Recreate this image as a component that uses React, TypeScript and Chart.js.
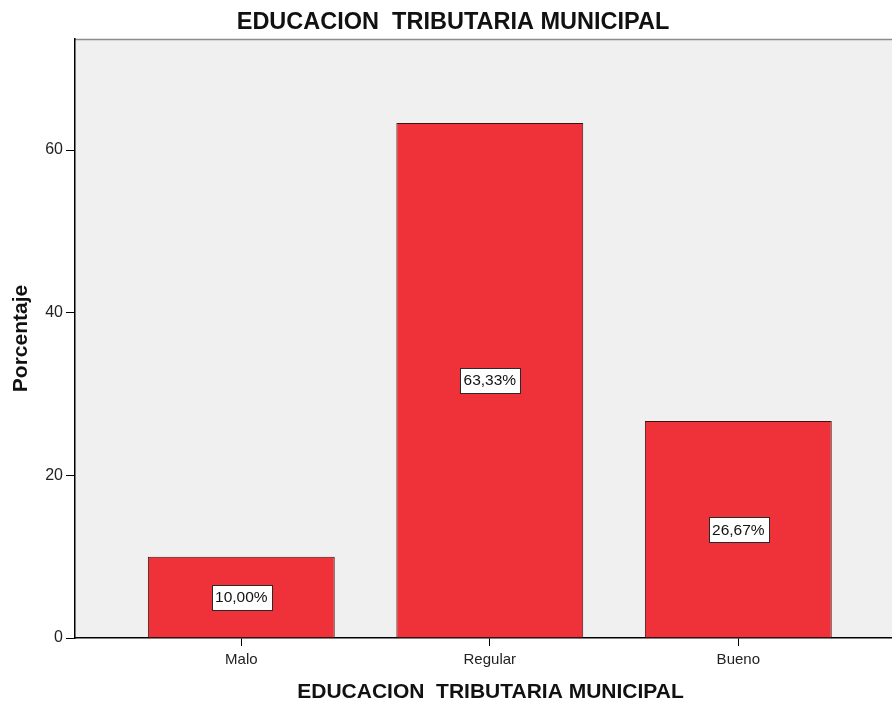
import React, { useEffect, useRef } from "react";
import { Chart, registerables } from "chart.js";

Chart.register(...registerables);

const categories = ["Malo", "Regular", "Bueno"];
const percentages = [10.0, 63.33, 26.67];
const yTicks = [0, 20, 40, 60];
const chartTitle = "EDUCACION  TRIBUTARIA MUNICIPAL";
const xTitle = "EDUCACION  TRIBUTARIA MUNICIPAL";
const yTitle = "Porcentaje";

const FONT = "'Liberation Sans', Arial, Helvetica, sans-serif";

const plotBackground = {
  id: "plotBackground",
  beforeDraw(chart: any) {
    const { ctx, chartArea } = chart;
    if (!chartArea) return;
    ctx.save();
    ctx.fillStyle = "#F0F0F0";
    ctx.fillRect(chartArea.left, chartArea.top, chartArea.right - chartArea.left, chartArea.bottom - chartArea.top);
    ctx.strokeStyle = "#8c8c8c";
    ctx.lineWidth = 1.5;
    ctx.beginPath();
    ctx.moveTo(chartArea.left, chartArea.top + 0.5);
    ctx.lineTo(chartArea.right, chartArea.top + 0.5);
    ctx.stroke();
    ctx.restore();
  },
};

const barLabels = {
  id: "barLabels",
  afterDatasetsDraw(chart: any) {
    const { ctx } = chart;
    const meta = chart.getDatasetMeta(0);
    ctx.save();
    ctx.font = `15.5px ${FONT}`;
    ctx.textAlign = "center";
    ctx.textBaseline = "middle";
    meta.data.forEach((bar: any, i: number) => {
      const v = percentages[i];
      const text = v.toFixed(2).replace(".", ",") + "%";
      const cx = bar.x;
      const cy = (bar.y + bar.base) / 2;
      const w = ctx.measureText(text).width + 7;
      const h = 25;
      ctx.fillStyle = "#ffffff";
      ctx.fillRect(Math.round(cx - w / 2) + 0.5, Math.round(cy - h / 2) + 0.5, Math.round(w), h);
      ctx.strokeStyle = "#2a2a2a";
      ctx.lineWidth = 1;
      ctx.strokeRect(Math.round(cx - w / 2) + 0.5, Math.round(cy - h / 2) + 0.5, Math.round(w), h);
      ctx.fillStyle = "#111";
      ctx.fillText(text, cx, cy + 1);
    });
    ctx.restore();
  },
};

export default function App() {
  const canvasRef = useRef<HTMLCanvasElement | null>(null);

  useEffect(() => {
    if (!canvasRef.current) return;
    const chart = new Chart(canvasRef.current, {
      type: "bar",
      data: {
        datasets: [
          {
            data: categories.map((c, i) => ({ x: i + 1, y: percentages[i] })),
            backgroundColor: "#EF313A",
            borderColor: "#3f1212",
            borderWidth: 1,
            barPercentage: 0.752,
            categoryPercentage: 1,
          },
        ],
      },
      options: {
        responsive: false,
        animation: false,
        devicePixelRatio: 1,
        layout: { padding: 0 },
        plugins: {
          legend: { display: false },
          tooltip: { enabled: false },
          title: {
            display: true,
            text: chartTitle,
            color: "#111",
            font: { family: FONT, size: 23.5, weight: "bold", lineHeight: 1.2 },
            padding: { top: 8.4, bottom: 2.4 },
          },
        },
        scales: {
          x: {
            type: "linear",
            offset: false,
            min: 0.3308,
            max: 3.6748,
            afterBuildTicks: (scale: any) => {
              scale.ticks = categories.map((c, i) => ({ value: i + 1 }));
            },
            afterFit: (scale: any) => {
              scale.height = 68;
            },
            ticks: {
              autoSkip: false,
              maxRotation: 0,
              padding: 5,
              color: "#222",
              font: { family: FONT, size: 15 },
              callback: (v: any) => categories[Number(v) - 1] ?? "",
            },
            grid: {
              display: true,
              offset: false,
              drawOnChartArea: false,
              drawTicks: true,
              tickLength: 8,
              color: "#000",
            },
            border: { display: true, color: "#000", width: 1.5 },
            title: {
              display: true,
              text: xTitle,
              color: "#111",
              font: { family: FONT, size: 21, weight: "bold", lineHeight: 1.2 },
              padding: { top: 0, bottom: 1.4 },
            },
          },
          y: {
            type: "linear",
            min: 0,
            max: 73.65,
            afterBuildTicks: (scale: any) => {
              scale.ticks = yTicks.map((v) => ({ value: v }));
            },
            afterFit: (scale: any) => {
              scale.width = 75;
            },
            ticks: {
              padding: 3,
              color: "#222",
              font: { family: FONT, size: 16 },
            },
            grid: {
              display: true,
              drawOnChartArea: false,
              drawTicks: true,
              tickLength: 9,
              color: "#000",
            },
            border: { display: true, color: "#000", width: 1.5 },
            title: {
              display: true,
              text: yTitle,
              color: "#111",
              font: { family: FONT, size: 21, weight: "bold", lineHeight: 1.2 },
              padding: { top: 8.4, bottom: 0 },
            },
          },
        },
      },
      plugins: [plotBackground, barLabels],
    } as any);
    return () => chart.destroy();
  }, []);

  return (
    <div style={{ position: "absolute", left: 0, top: 0, width: 892, height: 706, overflow: "hidden", background: "#fff" }}>
      <canvas ref={canvasRef} width={906} height={706} style={{ display: "block" }} />
    </div>
  );
}
